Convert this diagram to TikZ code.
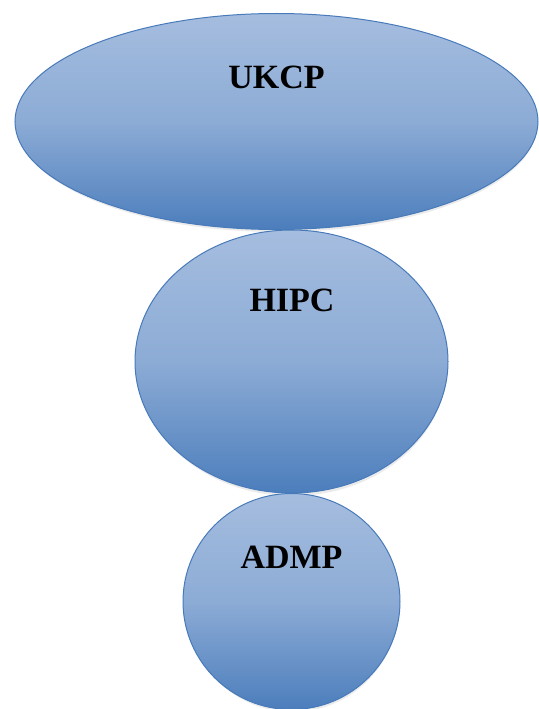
\documentclass[tikz,border=0pt]{standalone}
\usepackage{fontspec}
\setmainfont{Liberation Serif}
\usetikzlibrary{shapes.geometric}
\definecolor{blobtop}{RGB}{165,189,223}
\definecolor{blobbot}{RGB}{76,126,188}
\definecolor{blobline}{RGB}{72,122,186}
\tikzset{
  blob/.style={ellipse, draw=blobline, line width=1pt, inner sep=0pt, outer sep=0pt,
    top color=blobtop, bottom color=blobbot, middle color=blobtop!72!blobbot},
  blobshadow/.style={ellipse, fill=black, fill opacity=0.08, inner sep=0pt, draw=none},
  lbl/.style={font=\bfseries\fontsize{34}{34}\selectfont, text=black, inner sep=0pt}
}
\begin{document}
\begin{tikzpicture}[x=1pt,y=-1pt]
\useasboundingbox (0,0) rectangle (538,709);
% shadows
\node[blobshadow, minimum width=519pt, minimum height=214pt] at (277.5,125) {};
\node[blobshadow, minimum width=309pt, minimum height=261pt] at (292.5,365.5) {};
\node[blobshadow, minimum width=213pt, minimum height=214pt] at (292.5,605) {};
% shapes
\node[blob, minimum width=523pt, minimum height=216pt] (ukcp) at (276.5,121.5) {};
\node[blob, minimum width=313pt, minimum height=263pt] (hipc) at (291.5,361.5) {};
\node[blob, minimum width=217pt, minimum height=216pt] (admp) at (291.5,601.5) {};
% labels
\node[lbl] (tukcp) at (276.5,77) {UKCP};
\node[lbl] (thipc) at (292,300) {HIPC};
\node[lbl] (tadmp) at (291.5,557) {ADMP};
\end{tikzpicture}
\end{document}
